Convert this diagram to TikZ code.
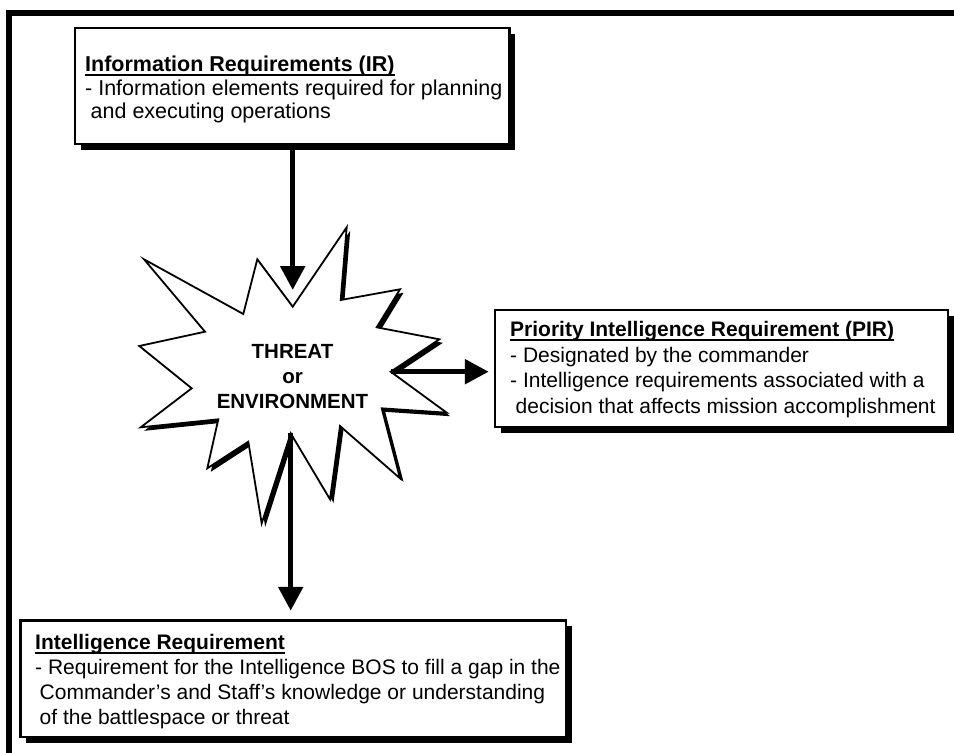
\documentclass[tikz,border=0pt]{standalone}
\usepackage{fontspec}
\setmainfont{Liberation Sans}
\usetikzlibrary{arrows.meta,shadows}
\newlength\ulw
\newcommand\myul[1]{\settowidth\ulw{\bfseries #1}\rlap{\rule[-4.3pt]{\ulw}{2pt}}{\bfseries #1}}
\newcommand\firststrut{\rule{0pt}{17pt}}
\newcommand\starpath{(292.7,306.7) -- (346.7,227.3) -- (340.7,300) -- (400,289.3) -- (376.7,327.3) -- (439.3,339.3) -- (390.7,371.7) -- (446.7,412.7) -- (381.7,408.3) -- (400,478.3) -- (340,426) -- (330,499.3) -- (290.7,433.3) -- (261.7,523.3) -- (248.3,441.7) -- (207.3,468.3) -- (218.3,419.3) -- (140.7,427.3) -- (191.7,388.3) -- (139.3,346) -- (205,331.7) -- (144,259.3) -- (243.3,314) -- (257.3,259.3) -- cycle}
\tikzset{
  box/.style={draw, line width=2.5pt, fill=white, inner sep=0pt,
    drop shadow={shadow xshift=5.5pt, shadow yshift=-5.5pt, opacity=1, fill=black}},
  txt/.style={anchor=north west, inner sep=0pt, align=left, font=\fontsize{21}{25}\selectfont},
  arr/.style={line width=5.5pt, -{Triangle[width=24pt,length=24pt]}},
}
\begin{document}
\begin{tikzpicture}[x=1pt,y=-1pt]
\useasboundingbox (0,0) rectangle (954,753);
\begin{scope}
\clip (0,0) rectangle (954,753);
\fill[white] (0,0) rectangle (954,753);
% outer frame
\draw[line width=6pt] (8.5,780) -- (8.5,12.5) -- (980,12.5);

% starburst
\fill[black, shift={(3.5,3.5)}] \starpath;
\draw[line width=1.8pt, fill=white] \starpath;
\coordinate (s1) at (292.7,306.7);
\coordinate (r1) at (390.7,371.7);
\coordinate (b1) at (290.7,433.3);
\node[inner sep=0pt, anchor=north, align=center, font=\fontsize{20.5}{25}\selectfont\bfseries] (thr) at (292.5,341.3) {\firststrut THREAT\\or\\ENVIRONMENT};

% boxes
\node[box, minimum width=434.5pt, minimum height=116pt] (ir) at (292.25,86) {};
\node[box, minimum width=453pt, minimum height=117pt] (pir) at (721.5,368.5) {};
\node[box, minimum width=545.5pt, minimum height=116.5pt] (int) at (293.25,678.75) {};

\node[txt, font=\fontsize{21.5}{23.5}\selectfont] (irt) at (85,54.5) {\firststrut\myul{Information Requirements (IR)}\\- Information elements required for planning\\\hspace*{5.5pt}and executing operations};
\node[txt, font=\fontsize{21}{25.4}\selectfont] (pirt) at (510,319.7) {\firststrut\myul{Priority Intelligence Requirement (PIR)}\\- Designated by the commander\\- Intelligence requirements associated with a\\\hspace*{5.5pt}decision that affects mission accomplishment};
\node[txt] (intt) at (35,632.5) {\firststrut\myul{Intelligence Requirement}\\- Requirement for the Intelligence BOS to fill a gap in the\\\hspace*{4.5pt}Commander’s and Staff’s knowledge or understanding\\\hspace*{4.5pt}of the battlespace or threat};

% arrows
\draw[arr, shorten >=16.7pt] (s1 |- ir.south) -- (s1);
\draw[arr, shorten >=5pt] (r1) -- (r1 -| pir.west);
\draw[arr, shorten >=8.5pt] (b1 |- b1) -- (b1 |- int.north);
\end{scope}
\end{tikzpicture}
\end{document}
